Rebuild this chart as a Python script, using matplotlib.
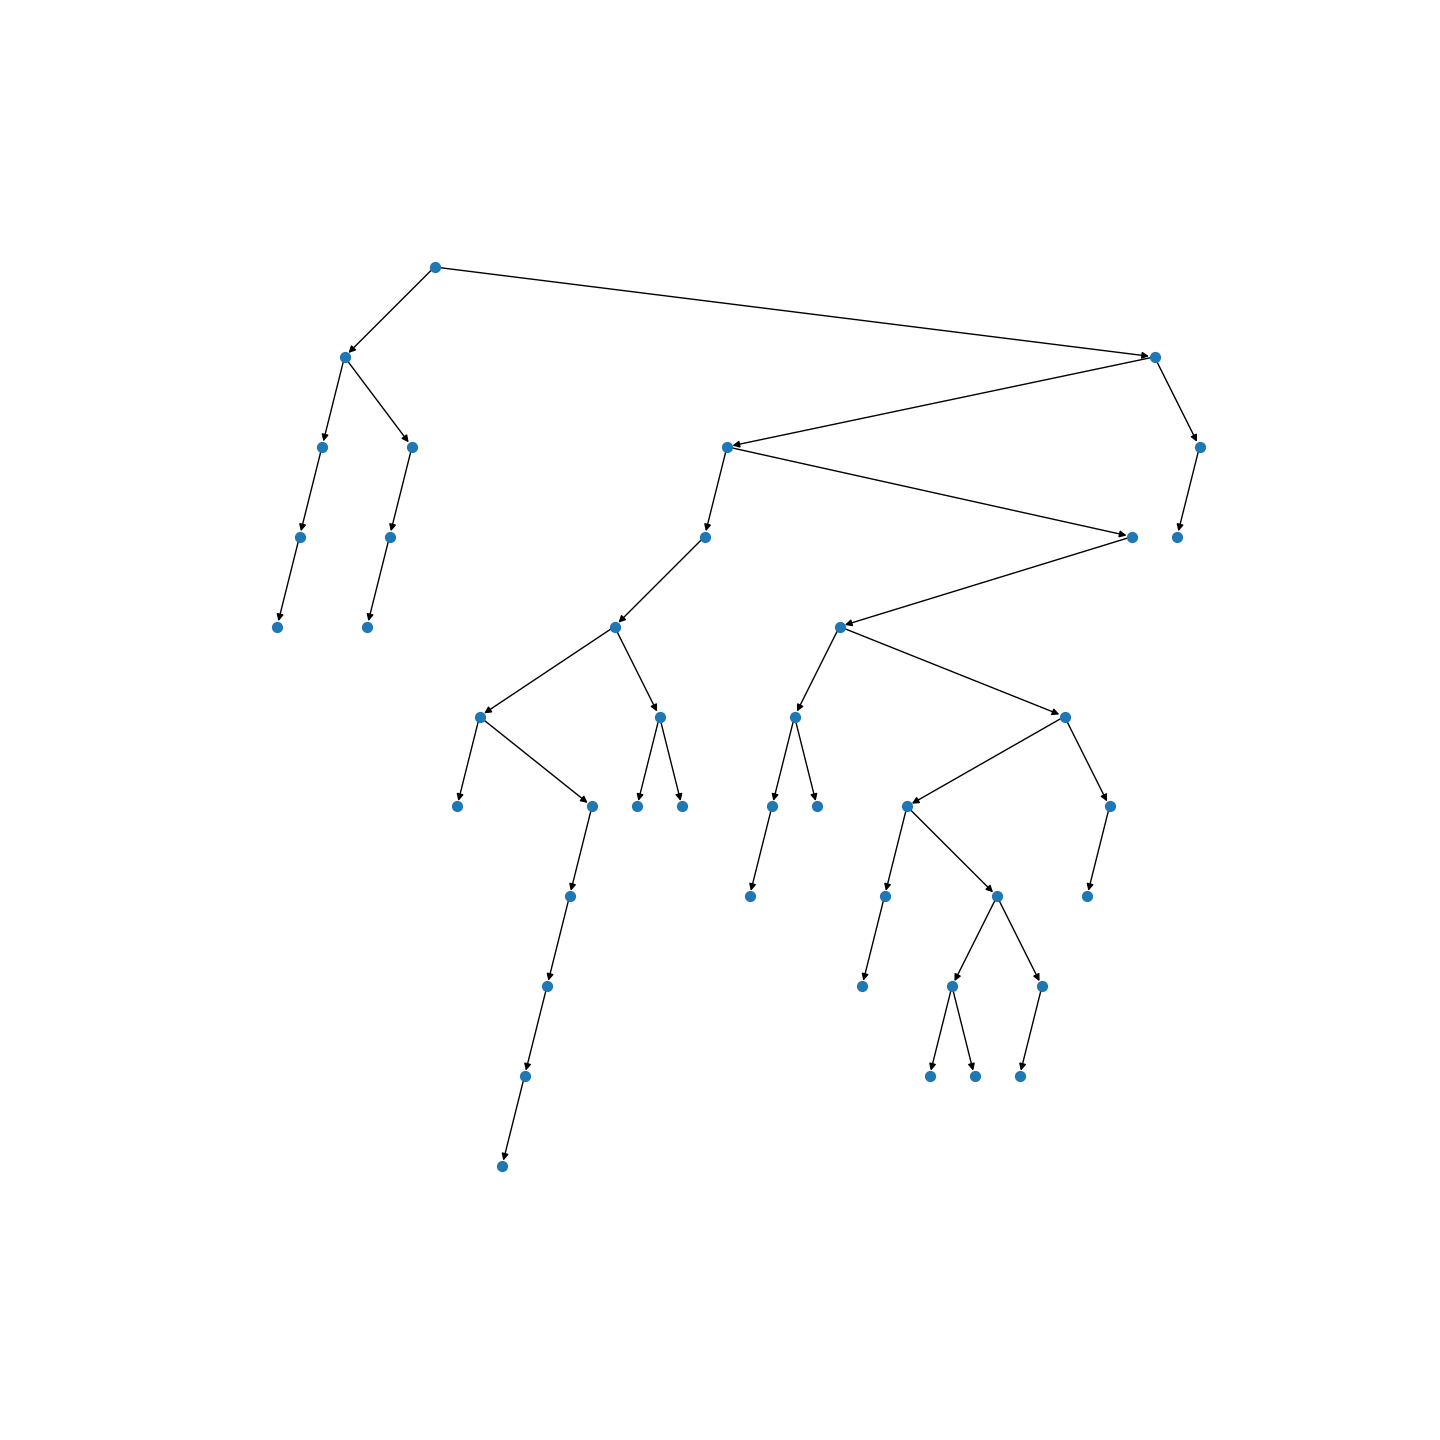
import matplotlib
matplotlib.use("Agg")
import matplotlib.pyplot as plt
from matplotlib.patches import FancyArrowPatch

# tree nodes, ordered left to right: horizontal slot, depth and parent slot
slot = list(range(42))
depth = [4, 3, 2, 1, 4, 3, 2, 0, 6, 5,
         10, 9, 8, 7, 6, 4, 6, 5, 6, 3,
         2, 7, 6, 5, 6, 4, 8, 7, 6, 9,
         8, 9, 7, 9, 8, 5, 7, 6, 3, 1,
         3, 2]
parent = [1, 2, 3, 7, 5, 6, 3, None, 9, 15,
          11, 12, 13, 14, 9, 19, 17, 15, 17, 20,
          39, 22, 23, 25, 23, 38, 27, 28, 35, 30,
          32, 30, 28, 34, 32, 25, 37, 35, 20, 7,
          41, 39]

fig = plt.figure(figsize=(14.4, 14.4), dpi=100)
ax = fig.add_axes([0, 0, 1, 1])

# edges
for i, p in enumerate(parent):
    if p is None:
        continue
    arr = FancyArrowPatch((slot[p], depth[p]), (slot[i], depth[i]),
                          arrowstyle='-|>', mutation_scale=10,
                          color='black', linewidth=1.0,
                          shrinkA=0, shrinkB=4, zorder=1)
    ax.add_patch(arr)

# nodes
ax.scatter(slot, depth, s=50, color='#1f77b4', zorder=2)

ax.set_xlim(-277 / 22.5, (1440 - 277) / 22.5)
ax.set_ylim((1440 - 267) / 89.9, -267 / 89.9)
ax.axis('off')

fig.savefig("out.png", dpi=100)
